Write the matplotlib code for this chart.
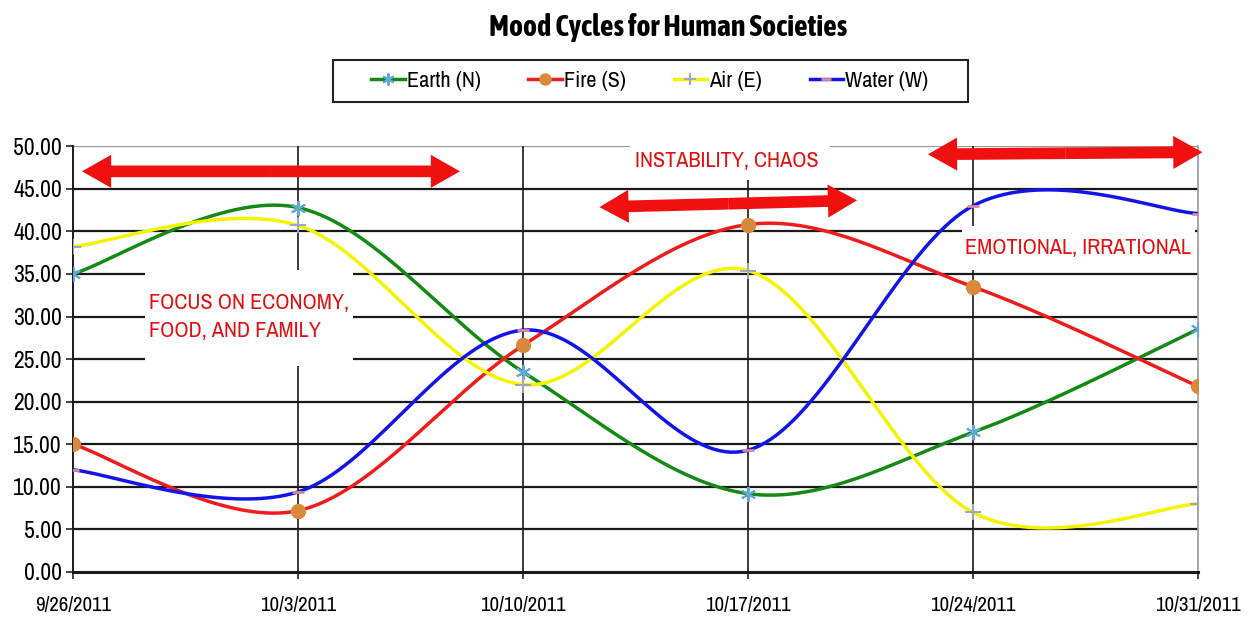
import numpy as np
import matplotlib
matplotlib.use("Agg")
import matplotlib.pyplot as plt
from matplotlib.patches import Rectangle, FancyArrowPatch
from matplotlib.lines import Line2D

# ---- data ----
dates = ["9/26/2011", "10/3/2011", "10/10/2011", "10/17/2011", "10/24/2011", "10/31/2011"]
earth = [35.0, 42.8, 23.5, 9.2, 16.4, 28.5]
fire = [15.0, 7.2, 26.6, 40.8, 33.5, 21.8]
air = [38.2, 40.7, 22.0, 35.4, 7.0, 8.0]
water = [12.0, 9.4, 28.4, 14.3, 43.0, 42.1]
series_names = ["Earth (N)", "Fire (S)", "Air (E)", "Water (W)"]
y_ticks = [0, 5, 10, 15, 20, 25, 30, 35, 40, 45, 50]

FONT = ["Archivo Narrow", "Roboto Condensed", "DejaVu Sans"]
TITLE_FONT = ["Asap Condensed", "Roboto Condensed", "DejaVu Sans"]
plt.rcParams["font.family"] = FONT


def excel_smooth(xs, ys, n=40):
    """Excel-style smoothed line (Catmull-Rom Bezier)."""
    xs = np.asarray(xs, float)
    ys = np.asarray(ys, float)
    P = np.column_stack([xs, ys])
    Pe = np.vstack([P[0], P, P[-1]])
    out = []
    t = np.linspace(0, 1, n)[:, None]
    for i in range(len(P) - 1):
        p0, p1, p2, p3 = Pe[i], Pe[i + 1], Pe[i + 2], Pe[i + 3]
        c1 = p1 + (p2 - p0) / 6.0
        c2 = p2 - (p3 - p1) / 6.0
        seg = ((1 - t) ** 3) * p1 + 3 * ((1 - t) ** 2) * t * c1 + 3 * (1 - t) * t ** 2 * c2 + t ** 3 * p2
        out.append(seg if i == 0 else seg[1:])
    out = np.vstack(out)
    return out[:, 0], out[:, 1]


fig = plt.figure(figsize=(12.52, 6.22), dpi=100)
ax = fig.add_axes([0.0583, 0.0804, 0.8985, 0.6845])

x = np.arange(len(dates))

styles = [
    (earth, "#148a14", (6, 2, 0), "#5fa8d8", 11, 1.4),
    (fire, "#ee1c1c", "o", "#d9893a", 10, 1.0),
    (air, "#f4f400", "+", "#9aa6c8", 11, 1.4),
    (water, "#1414e6", "_", "#d68a9c", 9, 2.0),
]

handles = []
for (vals, col, mk, mcol, ms, mew), name in zip(styles, series_names):
    sx, sy = excel_smooth(x, vals)
    ax.plot(sx, sy, color=col, lw=2.5, zorder=3, solid_capstyle="round")
    ax.plot(x, vals, ls="none", marker=mk, color=mcol, ms=ms, mew=mew, zorder=4)
    handles.append(Line2D([], [], color=col, lw=2.5, marker=mk, mfc=mcol,
                          mec=mcol, ms=ms * 0.8, mew=mew))

ax.set_xlim(0, len(dates) - 1)
ax.set_ylim(0, 50)
ax.set_yticks(y_ticks)
ax.set_yticklabels([f"{v:.2f}" for v in y_ticks], fontsize=17)
ax.set_xticks(x)
ax.set_xticklabels(dates, fontsize=15)
ax.tick_params(axis="both", direction="out", length=5, width=1.2, color="#222222")
ax.tick_params(axis="x", pad=12)
ax.tick_params(axis="y", pad=3)

# grid
for v in y_ticks[1:-1]:
    ax.axhline(v, color="#1a1a1a", lw=1.6, zorder=0.5)
ax.axhline(50, color="#9a9a9a", lw=1.6, zorder=0.5)
for xi in x[1:-1]:
    ax.axvline(xi, color="#1a1a1a", lw=1.2, zorder=0.5)

ax.spines["top"].set_visible(False)
ax.spines["right"].set_color("#9a9a9a")
ax.spines["right"].set_linewidth(1.2)
ax.spines["left"].set_color("#1a1a1a")
ax.spines["left"].set_linewidth(1.4)
ax.spines["bottom"].set_color("#1a1a1a")
ax.spines["bottom"].set_linewidth(2.2)

# annotation boxes (white, hiding gridlines)
tr = ax.transAxes
boxes = [(0.064, 0.484, 0.185, 0.225), (0.495, 0.92, 0.178, 0.10), (0.790, 0.709, 0.207, 0.103)]
for (bx, by, bw, bh) in boxes:
    ax.add_patch(Rectangle((bx, by), bw, bh, transform=tr, facecolor="white",
                           edgecolor="none", zorder=1, clip_on=False))

ax.text(0.068, 0.598, "FOCUS ON ECONOMY,\nFOOD, AND FAMILY", transform=tr, color="#e01010",
        fontsize=16, ha="left", va="center", linespacing=1.5, zorder=2)
ax.text(0.581, 0.965, "INSTABILITY, CHAOS", transform=tr, color="#e01010",
        fontsize=16, ha="center", va="center", zorder=2, clip_on=False)
ax.text(0.893, 0.761, "EMOTIONAL, IRRATIONAL", transform=tr, color="#e01010",
        fontsize=16, ha="center", va="center", zorder=2)

# double-headed arrows
arrows = [((0.008, 0.941), (0.344, 0.941)),
          ((0.468, 0.857), (0.697, 0.873)),
          ((0.760, 0.981), (1.004, 0.986))]
for (a, b) in arrows:
    mid = ((a[0] + b[0]) / 2, (a[1] + b[1]) / 2)
    for end in (a, b):
        ax.add_patch(FancyArrowPatch(mid, end, transform=tr,
                                     arrowstyle="simple,head_length=1.5,head_width=1.7,tail_width=0.6",
                                     mutation_scale=14, color="#f01010", lw=0,
                                     shrinkA=0, shrinkB=0, zorder=5, clip_on=False))

fig.text(0.534, 0.955, "Mood Cycles for Human Societies", ha="center", va="center",
         fontsize=21.5, fontweight="bold", family=TITLE_FONT)

# legend with a custom outer frame
fig.patches.append(Rectangle((333 / 1252, 1 - 102 / 622), 635 / 1252, 42 / 622,
                             transform=fig.transFigure, facecolor="white",
                             edgecolor="#222222", lw=1.5, zorder=0))
leg = fig.legend(handles, series_names, loc="center", bbox_to_anchor=(0.519, 0.870),
                 ncol=4, fontsize=16, frameon=False, handlelength=1.5,
                 columnspacing=2.15, handletextpad=0.1, numpoints=1)

fig.savefig("out.png", dpi=100)
